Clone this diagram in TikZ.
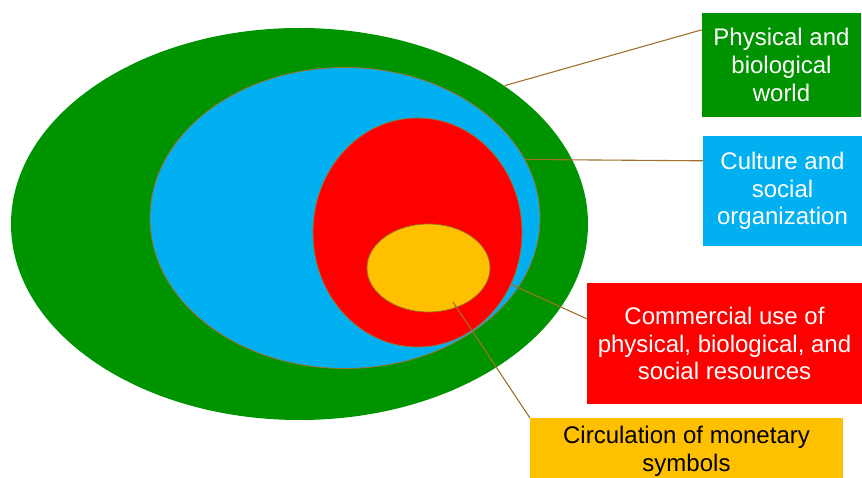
\documentclass[tikz,border=0pt]{standalone}
\usepackage{fontspec}
\setmainfont{Liberation Sans}
\usetikzlibrary{shapes.geometric}
\definecolor{Leaf}{HTML}{009300}
\definecolor{Sky}{HTML}{00B0F0}
\definecolor{Scarlet}{HTML}{FF0000}
\definecolor{Amber}{HTML}{FFC000}
\definecolor{Olive}{HTML}{A0702A}

\begin{document}
\begin{tikzpicture}[x=1pt,y=-1pt,
  ring/.style={ellipse,draw=Olive,line width=.8pt,inner sep=0pt},
  tag/.style={rectangle,inner sep=0pt,align=center,text=white,font=\fontsize{24}{27.6}\selectfont},
  lead/.style={draw=Olive,line width=1.1pt}]
\useasboundingbox (0,0) rectangle (862,478);
\clip (0,0) rectangle (862,478);
\node[ring,draw=none,fill=Leaf,minimum width=577pt,minimum height=392pt] (world) at (299.5,224) {};
\node[ring,fill=Sky,minimum width=390pt,minimum height=301pt] (culture) at (345,218) {};
\node[ring,fill=Scarlet,minimum width=209pt,minimum height=229pt] (trade) at (417.5,232.5) {};
\node[ring,fill=Amber,minimum width=123pt,minimum height=88pt] (money) at (428.5,268) {};
\node[tag,fill=Leaf,minimum width=159pt,minimum height=104pt] (worldbox) at (781.5,65) {Physical and\\biological\\world};
\node[tag,fill=Sky,minimum width=159pt,minimum height=110pt] (culturebox) at (782.5,191) {Culture and\\social\\organization};
\node[tag,fill=Scarlet,minimum width=275pt,minimum height=121pt] (tradebox) at (724.5,343.5) {Commercial use of\\physical, biological, and\\social resources};
\node[tag,fill=Amber,text=black,minimum width=313pt,minimum height=66pt] (moneybox) at (686.5,451) {Circulation of monetary\\symbols};
\coordinate (coin) at (453,302);
\draw[lead] (world.34.5)--([yshift=-17pt]worldbox.north west);
\draw[lead] (culture.18)--([yshift=-25pt]culturebox.north west);
\draw[lead] (trade.-29)--([yshift=-36pt]tradebox.north west);
\draw[lead] (coin)--(moneybox.north west);
\end{tikzpicture}
\end{document}
